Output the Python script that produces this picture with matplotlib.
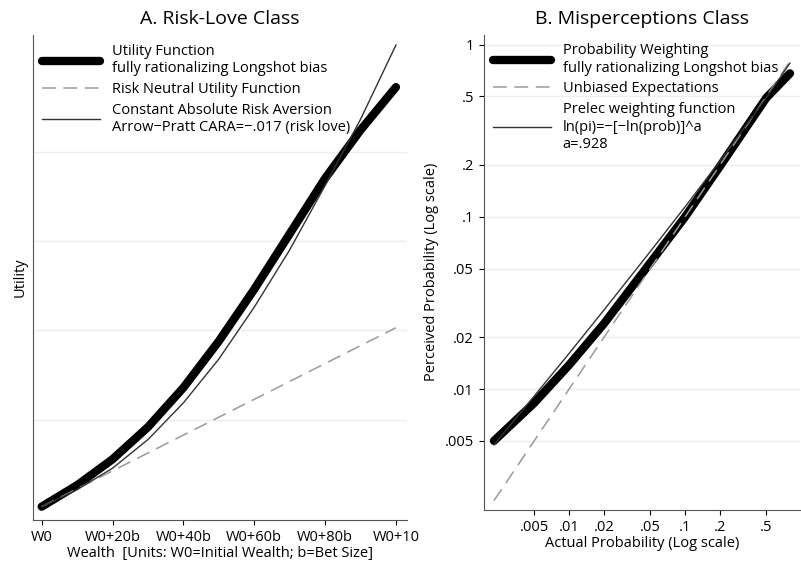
import matplotlib
matplotlib.use('Agg')
import matplotlib.pyplot as plt

plt.rcParams['font.family'] = ['Open Sans', 'DejaVu Sans']

# Panel A data (wealth in bet units, utility in arbitrary units)
wealth = [0, 10, 20, 30, 40, 50, 60, 70, 80, 90, 100]
util_longshot = [0.03, 0.27, 0.56, 0.92, 1.36, 1.88, 2.46, 3.08, 3.70, 4.24, 4.72]
util_cara = [0.03, 0.22, 0.46, 0.78, 1.19, 1.68, 2.26, 2.90, 3.62, 4.36, 5.19]
neutral_x = [0, 100]
neutral_y = [0.03, 2.03]
x_ticks_a = [0, 20, 40, 60, 80, 100]
x_labels_a = ['W0', 'W0+20b', 'W0+40b', 'W0+60b', 'W0+80b', 'W0+10']

# Panel B data
prob = [0.00225, 0.005, 0.01, 0.02, 0.05, 0.1, 0.2, 0.5, 0.8]
weight_longshot = [0.005, 0.0083, 0.0138, 0.024, 0.054, 0.10, 0.197, 0.49, 0.68]
weight_prelec = [0.00474, 0.0091, 0.0161, 0.0288, 0.0628, 0.1144, 0.211, 0.491, 0.78]
unbiased = [0.00225, 0.8]
ticks_b = [0.005, 0.01, 0.02, 0.05, 0.1, 0.2, 0.5, 1]
labels_b = ['.005', '.01', '.02', '.05', '.1', '.2', '.5', '1']

fig = plt.figure(figsize=(8.01, 5.69), dpi=100)
grid_c = '#eeeeee'
leg_fs = 10.5

axa = fig.add_axes([0.041, 0.086, 0.467, 0.852])
for g in [1, 2, 3, 4]:
    axa.axhline(g, color=grid_c, lw=1, zorder=0)
axa.plot(wealth, util_longshot, color='black', lw=6, solid_capstyle='round',
         solid_joinstyle='round', label='Utility Function\nfully rationalizing Longshot bias')
axa.plot(neutral_x, neutral_y, color='#999999', lw=1.1, dashes=(9, 5),
         label='Risk Neutral Utility Function')
axa.plot(wealth, util_cara, color='#333333', lw=1,
         label='Constant Absolute Risk Aversion\nArrow\u2212Pratt CARA=\u2212.017 (risk love)')
axa.set_xlim(-2.5, 103.1)
axa.set_ylim(-0.12, 5.3)
axa.set_xticks(x_ticks_a)
axa.set_xticklabels(x_labels_a, fontsize=10.5)
axa.set_yticks([])
axa.set_ylabel('Utility', fontsize=10.5)
axa.set_xlabel('Wealth  [Units: W0=Initial Wealth; b=Bet Size]', fontsize=10.5, labelpad=1)
axa.set_title('A. Risk-Love Class', fontsize=14, pad=8)
for s in ['top', 'right']:
    axa.spines[s].set_visible(False)
for s in ['left', 'bottom']:
    axa.spines[s].set_color('#555555')
axa.legend(loc='upper left', frameon=False, fontsize=leg_fs, handlelength=4,
           borderaxespad=0.2, labelspacing=0.4)

axb = fig.add_axes([0.604, 0.104, 0.395, 0.835])
axb.set_xscale('log')
axb.set_yscale('log')
for t in ticks_b:
    axb.axhline(t, color=grid_c, lw=1, zorder=0)
axb.plot(prob, weight_longshot, color='black', lw=6, solid_capstyle='round',
         solid_joinstyle='round', label='Probability Weighting\nfully rationalizing Longshot bias')
axb.plot(unbiased, unbiased, color='#999999', lw=1.1, dashes=(9, 5),
         label='Unbiased Expectations')
axb.plot(prob, weight_prelec, color='#333333', lw=1,
         label='Prelec weighting function\nln(pi)=\u2212[\u2212ln(prob)]^a\na=.928')
axb.set_xlim(0.00184, 0.98)
axb.set_ylim(0.00199, 1.14)
axb.set_xticks(ticks_b[:-1])
axb.set_xticklabels(labels_b[:-1], fontsize=10.5)
axb.set_yticks(ticks_b)
axb.set_yticklabels(labels_b, fontsize=10.5)
axb.minorticks_off()
axb.set_xlabel('Actual Probability (Log scale)', fontsize=10.5, labelpad=1)
axb.set_ylabel('Perceived Probability (Log scale)', fontsize=10.5)
axb.set_title('B. Misperceptions Class', fontsize=14, pad=8)
for s in ['top', 'right']:
    axb.spines[s].set_visible(False)
for s in ['left', 'bottom']:
    axb.spines[s].set_color('#555555')
axb.legend(loc='upper left', frameon=False, fontsize=leg_fs, handlelength=4,
           borderaxespad=0.2, labelspacing=0.4)

fig.savefig('out.png', dpi=100)
